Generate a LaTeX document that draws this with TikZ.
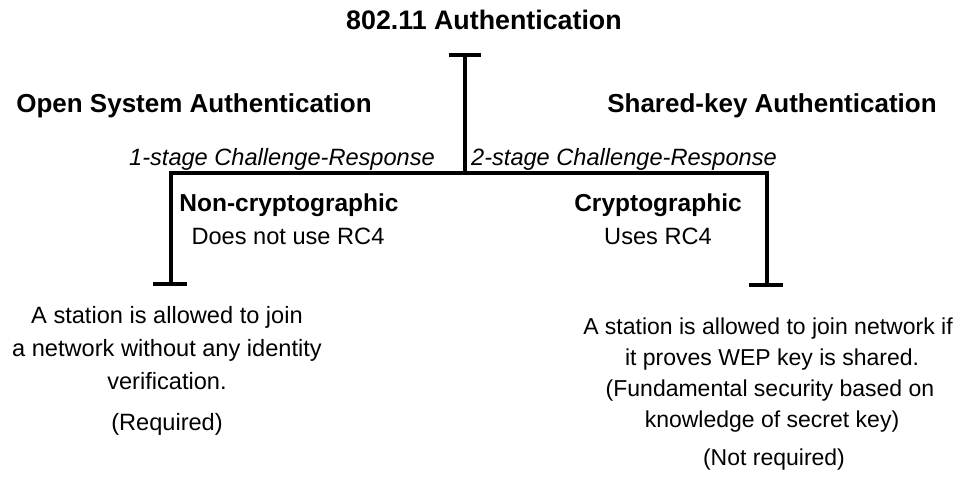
\documentclass[tikz,border=0pt]{standalone}
\usepackage{fontspec}
\setmainfont{Liberation Sans}
\begin{document}
\begin{tikzpicture}[x=1pt,y=-1pt,
  bar/.style={line width=4pt,line join=miter},
  hd/.style={font=\fontsize{26}{30}\selectfont\bfseries, inner sep=0pt, anchor=base},
  sub/.style={font=\fontsize{24.5}{30}\selectfont\bfseries, inner sep=0pt, anchor=base},
  tx/.style={font=\fontsize{23.6}{28}\selectfont, inner sep=0pt, anchor=base},
  txr/.style={font=\fontsize{23}{28}\selectfont, inner sep=0pt, anchor=base},
  it/.style={font=\fontsize{23.6}{28}\selectfont\itshape, inner sep=0pt, anchor=base}]
\useasboundingbox (0,0) rectangle (961,481);
% headings
\node[hd,font=\fontsize{26.8}{30}\selectfont\bfseries] (title) at (484,30) {802.11 Authentication};
\node[hd] (osa) at (194,113) {Open System Authentication};
\node[hd] (ska) at (772,113) {Shared-key Authentication};
\node[it] (one) at (282,166) {1-stage Challenge-Response};
\node[it] (two) at (624,166) {2-stage Challenge-Response};
\node[sub] (ncr) at (289,212) {Non-cryptographic};
\node[tx] (ncr2) at (288,244) {Does not use RC4};
\node[sub] (cr) at (658,212) {Cryptographic};
\node[tx] (cr2) at (658,244) {Uses RC4};
% left description
\node[tx] (l1) at (167,323) {A station is allowed to join};
\node[tx] (l2) at (167,356) {a network without any identity};
\node[tx] (l3) at (167,389) {verification.};
\node[tx] (l4) at (167,430) {(Required)};
% right description
\node[txr] (r1) at (768,334) {A station is allowed to join network if};
\node[txr] (r2) at (772,365) {it proves WEP key is shared.};
\node[txr] (r3) at (770,396) {(Fundamental security based on};
\node[txr] (r4) at (772,427) {knowledge of secret key)};
\node[txr] (r5) at (774,465) {(Not required)};
% connectors
\coordinate (ttop) at (465,55);
\coordinate (ttl) at (449,55);
\coordinate (ttr) at (481,55);
\coordinate (hub) at (465,173);
\coordinate (hl) at (171,173);
\coordinate (hr) at (767,173);
\coordinate (lb) at (171,284);
\coordinate (lbl) at (153,284);
\coordinate (lbr) at (187,284);
\coordinate (rb) at (767,285);
\coordinate (rbl) at (749,285);
\coordinate (rbr) at (783,285);
\draw[bar] (ttl) -- (ttr);
\draw[bar] (ttop) -- (hub);
\draw[bar] (lb) -- (hl) -- (hr) -- (rb);
\draw[bar] (lbl) -- (lbr);
\draw[bar] (rbl) -- (rbr);
\end{tikzpicture}
\end{document}
